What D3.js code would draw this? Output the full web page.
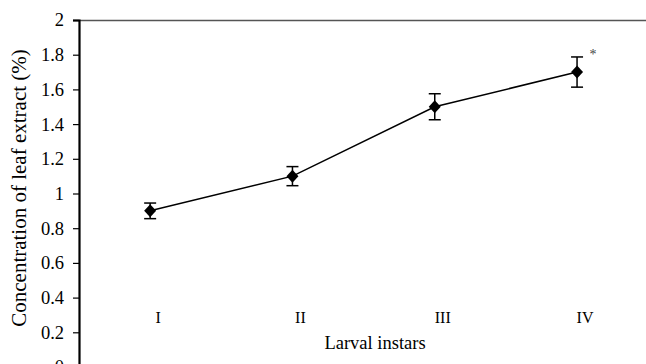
<!DOCTYPE html>
<html>
<head>
<meta charset="utf-8">
<script src="https://cdn.jsdelivr.net/npm/d3@7"></script>
<style>
  body { margin: 0; background: #fff; }
  svg text { font-family: 'Liberation Serif', 'DejaVu Serif', serif !important; }
</style>
</head>
<body>
<div id="chart"></div>
<script>
// data
var instars = ["I", "II", "III", "IV"];
var concentration = [0.9, 1.1, 1.5, 1.7];
var errors = [0.045, 0.055, 0.075, 0.087];
var marks = ["", "", "", "*"];
var yTicks = [0, 0.2, 0.4, 0.6, 0.8, 1, 1.2, 1.4, 1.6, 1.8, 2];

var width = 646, height = 364;
var margin = {top: 20, right: 0, bottom: -3, left: 79};

var svg = d3.select("#chart").append("svg")
  .attr("width", width)
  .attr("height", height);

var x = d3.scaleBand()
  .domain(instars)
  .range([margin.left, margin.left + 4 * 142.3]);

var y = d3.scaleLinear()
  .domain([0, 2])
  .range([height - margin.bottom, margin.top]);

var data = instars.map(function(d, i) {
  return {group: d, value: concentration[i], err: errors[i], mark: marks[i]};
});

// top frame line
svg.append("line")
  .attr("x1", margin.left - 6)
  .attr("x2", width)
  .attr("y1", y(2) + 0.5)
  .attr("y2", y(2) + 0.5)
  .attr("stroke", "#555")
  .attr("stroke-width", 1.5);

// y axis
var yAxis = svg.append("g")
  .attr("transform", "translate(" + margin.left + ",0)")
  .call(d3.axisLeft(y).tickValues(yTicks).tickSize(6).tickPadding(9)
    .tickFormat(function(d) { return d3.format("")(d); }));
yAxis.select(".domain").attr("stroke", "#000").attr("stroke-width", 2.2);
yAxis.selectAll(".tick line").attr("stroke", "#000").attr("stroke-width", 1.2);
yAxis.selectAll(".tick text")
  .attr("fill", "#000")
  .style("font-size", "18.5px");

// y axis title
svg.append("text")
  .attr("transform", "translate(26," + 188 + ") rotate(-90)")
  .attr("text-anchor", "middle")
  .style("font-size", "21px")
  .text("Concentration of leaf extract (%)");

// category labels
svg.selectAll(".cat")
  .data(data)
  .enter().append("text")
  .attr("class", "cat")
  .attr("x", function(d) { return x(d.group) + x.bandwidth() / 2 + 8; })
  .attr("y", 323)
  .attr("text-anchor", "middle")
  .style("font-size", "16px")
  .text(function(d) { return d.group; });

svg.append("text")
  .attr("x", 375)
  .attr("y", 349)
  .attr("text-anchor", "middle")
  .style("font-size", "18.5px")
  .text("Larval instars");

// line
var line = d3.line()
  .x(function(d) { return x(d.group) + x.bandwidth() / 2; })
  .y(function(d) { return y(d.value); });

svg.append("path")
  .datum(data)
  .attr("d", line)
  .attr("fill", "none")
  .attr("stroke", "#000")
  .attr("stroke-width", 1.5);

// error bars
var eb = svg.selectAll(".err")
  .data(data)
  .enter().append("g")
  .attr("class", "err")
  .attr("stroke", "#000")
  .attr("stroke-width", 1.5);

eb.append("line")
  .attr("x1", function(d) { return x(d.group) + x.bandwidth() / 2; })
  .attr("x2", function(d) { return x(d.group) + x.bandwidth() / 2; })
  .attr("y1", function(d) { return y(d.value + d.err); })
  .attr("y2", function(d) { return y(d.value - d.err); });

[1, -1].forEach(function(s) {
  eb.append("line")
    .attr("x1", function(d) { return x(d.group) + x.bandwidth() / 2 - 6; })
    .attr("x2", function(d) { return x(d.group) + x.bandwidth() / 2 + 6; })
    .attr("y1", function(d) { return y(d.value + s * d.err); })
    .attr("y2", function(d) { return y(d.value + s * d.err); });
});

// diamond markers
svg.selectAll(".pt")
  .data(data)
  .enter().append("path")
  .attr("class", "pt")
  .attr("d", "M0,-6.5L6,0L0,6.5L-6,0Z")
  .attr("transform", function(d) {
    return "translate(" + (x(d.group) + x.bandwidth() / 2) + "," + y(d.value) + ")";
  })
  .attr("fill", "#000");

// significance marks
svg.selectAll(".sig")
  .data(data)
  .enter().append("text")
  .attr("class", "sig")
  .attr("x", function(d) { return x(d.group) + x.bandwidth() / 2 + 16; })
  .attr("y", function(d) { return y(d.value + d.err) + 2; })
  .attr("text-anchor", "middle")
  .style("font-size", "14px")
  .style("fill", "#444")
  .text(function(d) { return d.mark; });
</script>
</body>
</html>
